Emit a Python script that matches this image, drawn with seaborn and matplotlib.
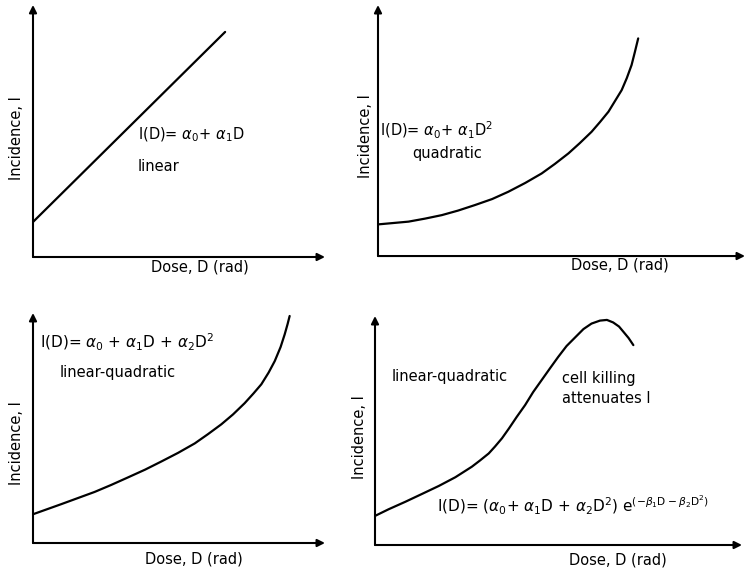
import matplotlib
matplotlib.use("Agg")
import matplotlib.pyplot as plt
import seaborn as sns


# Curves (arbitrary units, both axes 0-100)
linear_dose = [0, 65.8]
linear_inc = [13.9, 89.3]

quad_dose = [0, 8.3, 12.8, 17.4, 21.8, 26.4, 31.1, 35.5, 40.1, 44.6, 48.2, 51.9,
             55.0, 58.2, 60.5, 62.8, 64.6, 66.4, 67.8, 69.1, 70.0, 70.9]
quad_inc = [12.6, 13.7, 14.9, 16.3, 18.1, 20.3, 22.7, 25.6, 29.1, 32.9, 36.7, 40.9,
            45.0, 49.5, 53.4, 57.5, 61.8, 66.1, 70.9, 76.1, 81.3, 86.7]

lq_dose = [0, 9.7, 21.1, 26.7, 32.5, 38.4, 43.9, 49.7, 55.4, 59.9, 64.5, 68.5,
           72.5, 75.5, 78.2, 80.7, 82.8, 84.8, 86.2, 87.2, 87.9]
lq_inc = [12.5, 16.9, 22.2, 25.2, 28.5, 31.9, 35.4, 39.2, 43.3, 47.3, 51.6, 55.9,
          60.8, 65.0, 69.0, 74.1, 79.1, 85.2, 90.7, 95.2, 98.7]

kill_dose = [0, 3.7, 8.3, 12.8, 17.4, 21.9, 26.4, 28.6, 31.0, 32.7, 34.6, 36.5,
             38.6, 40.9, 43.1, 47.7, 49.9, 52.2, 54.5, 56.8, 59.0, 61.3, 63.2,
             64.9, 66.5, 67.7, 69.1, 70.4]
kill_inc = [12.7, 15.6, 18.9, 22.3, 25.8, 29.6, 34.2, 36.9, 40.0, 43.0, 46.6, 50.9,
            55.9, 61.1, 66.8, 77.2, 82.1, 86.9, 90.6, 94.3, 96.7, 98.0, 98.3,
            97.2, 95.4, 93.1, 90.4, 87.3]

x_label = "Dose, D (rad)"
y_label = "Incidence, I"

sns.set_style("white")
plt.rcParams['font.family'] = ['DejaVu Sans']
plt.rcParams['mathtext.fontset'] = 'dejavusans'
plt.rcParams['text.color'] = 'black'

fig = plt.figure(figsize=(7.5, 5.72), dpi=100)


def make_panel(rect, dose, inc, xlab_pos, ylab_pos):
    ax = fig.add_axes(rect)
    sns.lineplot(x=dose, y=inc, ax=ax, color='black', linewidth=1.6)
    ax.set_xlim(0, 100)
    ax.set_ylim(0, 100)
    ax.set_xticks([])
    ax.set_yticks([])
    for s in ax.spines.values():
        s.set_visible(False)
    arrow = dict(arrowstyle='-|>', color='black', lw=1.5, mutation_scale=11,
                 shrinkA=0, shrinkB=0)
    ax.annotate('', xy=(1, 0), xytext=(0, 0), xycoords='axes fraction',
                arrowprops=arrow, annotation_clip=False)
    ax.annotate('', xy=(0, 1), xytext=(0, 0), xycoords='axes fraction',
                arrowprops=arrow, annotation_clip=False)
    ax.text(*xlab_pos, x_label, transform=ax.transAxes, ha='center', va='center',
            fontsize=10.5)
    ax.text(*ylab_pos, y_label, transform=ax.transAxes, ha='center', va='center',
            rotation=90, fontsize=10.5)
    return ax


# top left: linear
ax1 = make_panel([0.044, 0.5507, 0.3893, 0.4406], linear_dose, linear_inc,
                 (0.572, -0.040), (-0.055, 0.472))
ax1.text(0.36, 0.484, r"I(D)= $\alpha_0$+ $\alpha_1$D", transform=ax1.transAxes,
         va='center', fontsize=10.5)
ax1.text(0.36, 0.361, "linear", transform=ax1.transAxes, va='center', fontsize=10.5)

# top right: quadratic
ax2 = make_panel([0.504, 0.5524, 0.4893, 0.4388], quad_dose, quad_inc,
                 (0.659, -0.036), (-0.035, 0.478))
ax2.text(0.005, 0.502, r"I(D)= $\alpha_0$+ $\alpha_1$D$^2$", transform=ax2.transAxes,
         va='center', fontsize=10.5)
ax2.text(0.093, 0.41, "quadratic", transform=ax2.transAxes, va='center', fontsize=10.5)

# bottom left: linear-quadratic
ax3 = make_panel([0.044, 0.0507, 0.3893, 0.4021], lq_dose, lq_inc,
                 (0.551, -0.068), (-0.055, 0.435))
ax3.text(0.024, 0.87, r"I(D)= $\alpha_0$ + $\alpha_1$D + $\alpha_2$D$^2$",
         transform=ax3.transAxes, va='center', fontsize=11)
ax3.text(0.092, 0.743, "linear-quadratic", transform=ax3.transAxes, va='center',
         fontsize=10.5)

# bottom right: linear-quadratic with cell killing
ax4 = make_panel([0.5, 0.0472, 0.4893, 0.4003], kill_dose, kill_inc,
                 (0.662, -0.066), (-0.041, 0.472))
ax4.text(0.046, 0.734, "linear-quadratic", transform=ax4.transAxes, va='center',
         fontsize=10.5)
ax4.text(0.51, 0.729, "cell killing", transform=ax4.transAxes, va='center',
         fontsize=10.5)
ax4.text(0.51, 0.642, "attenuates I", transform=ax4.transAxes, va='center',
         fontsize=10.5)
ax4.text(0.169, 0.175,
         r"I(D)= ($\alpha_0$+ $\alpha_1$D + $\alpha_2$D$^2$) e$^{(-\beta_1\mathrm{D} - \beta_2\mathrm{D}^2)}$",
         transform=ax4.transAxes, va='center', fontsize=11, clip_on=False)

fig.savefig("out.png", dpi=100)
